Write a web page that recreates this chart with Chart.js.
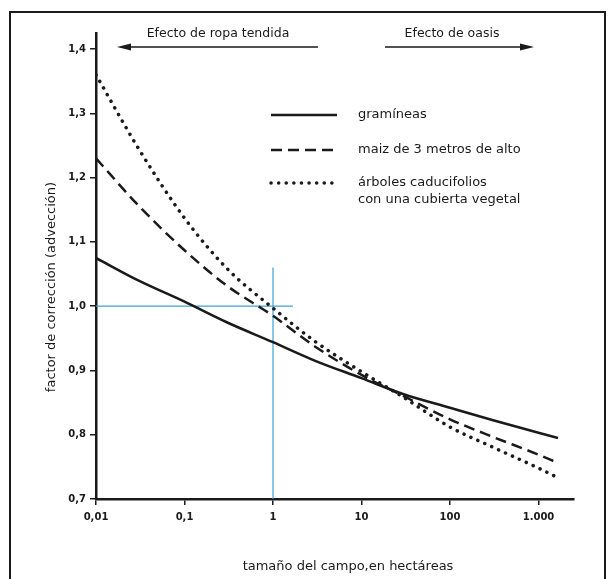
<!DOCTYPE html>
<html>
<head>
<meta charset="utf-8">
<script src="https://cdn.jsdelivr.net/npm/chart.js@4"></script>
<style>
html, body { margin: 0; padding: 0; background: #fff; }
</style>
</head>
<body>
<canvas id="advection" width="611" height="579"></canvas>
<script>
// field size (ha) and correction factor
var fieldSize = [0.01, 0.03, 0.1, 0.3, 1, 3, 10, 30, 100, 300, 1000, 1660];
var grass = [1.075, 1.04, 1.007, 0.975, 0.944, 0.915, 0.888, 0.863, 0.842, 0.823, 0.803, 0.795];
var maize = [1.23, 1.157, 1.087, 1.032, 0.985, 0.937, 0.893, 0.86, 0.824, 0.797, 0.769, 0.756];
var trees = [1.36, 1.246, 1.137, 1.059, 0.997, 0.945, 0.898, 0.858, 0.812, 0.781, 0.748, 0.733];

var seriesNames = ["gramíneas", "maiz de 3 metros de alto", "árboles caducifolios", "con una cubierta vegetal"];

var xTicks = [0.01, 0.1, 1, 10, 100, 1000];
var xTickLabels = ["0,01", "0,1", "1", "10", "100", "1.000"];
var yTicks = [0.7, 0.8, 0.9, 1.0, 1.1, 1.2, 1.3, 1.4];
var yTickLabels = ["0,7", "0,8", "0,9", "1,0", "1,1", "1,2", "1,3", "1,4"];

// blue reference cross at 1 ha / factor 1,0
var crossVX = [1, 1];
var crossVY = [0.7, 1.06];
var crossHX = [0.01, 1.68];
var crossHY = [1, 1];

var ink = "#1a1a1a";
var blue = "#3ea2d6";

function pts(xs, ys) {
	return xs.map(function(x, i) { return {x: x, y: ys[i]}; });
}

var extras = {
	id: 'extras',
	afterDraw: function(chart) {
		var ctx = chart.ctx;
		ctx.save();
		// frame
		ctx.strokeStyle = ink;
		ctx.lineWidth = 2;
		ctx.beginPath();
		ctx.moveTo(10, 579);
		ctx.lineTo(10, 12);
		ctx.lineTo(605, 12);
		ctx.lineTo(605, 579);
		ctx.stroke();

		ctx.fillStyle = ink;
		ctx.font = "12.5px 'DejaVu Sans'";
		ctx.textAlign = "center";
		ctx.textBaseline = "middle";
		ctx.fillText("Efecto de ropa tendida", 218, 34);
		ctx.fillText("Efecto de oasis", 452, 34);

		// arrows
		ctx.lineWidth = 1.5;
		ctx.beginPath();
		ctx.moveTo(128, 47); ctx.lineTo(318, 47);
		ctx.moveTo(385, 47); ctx.lineTo(522, 47);
		ctx.stroke();
		ctx.beginPath();
		ctx.moveTo(117, 47); ctx.lineTo(131, 43.5); ctx.lineTo(131, 50.5); ctx.closePath();
		ctx.moveTo(534, 47); ctx.lineTo(520, 43.5); ctx.lineTo(520, 50.5); ctx.closePath();
		ctx.fill();

		// axis titles
		ctx.font = "13px 'DejaVu Sans'";
		ctx.fillText("tamaño del campo,en hectáreas", 348, 567);
		ctx.save();
		ctx.translate(52, 287);
		ctx.rotate(-Math.PI / 2);
		ctx.fillText("factor de corrección (advección)", 0, 0);
		ctx.restore();

		// legend
		var rows = [115, 150, 183];
		chart.data.datasets.slice(0, 3).forEach(function(ds, i) {
			ctx.strokeStyle = ink;
			ctx.lineWidth = ds.borderWidth;
			ctx.lineCap = ds.borderCapStyle || "butt";
			ctx.setLineDash(ds.borderDash || []);
			ctx.beginPath();
			ctx.moveTo(271, rows[i]);
			ctx.lineTo(337, rows[i]);
			ctx.stroke();
		});
		ctx.setLineDash([]);
		ctx.textAlign = "left";
		ctx.fillText(seriesNames[0], 358, rows[0]);
		ctx.fillText(seriesNames[1], 358, rows[1]);
		ctx.fillText(seriesNames[2], 358, rows[2]);
		ctx.fillText(seriesNames[3], 358, rows[2] + 17);
		ctx.restore();
	}
};

var config = {
	type: 'line',
	data: {
		datasets: [{
			label: seriesNames[0],
			data: pts(fieldSize, grass),
			borderColor: ink,
			borderWidth: 2.5,
			cubicInterpolationMode: 'monotone'
		}, {
			label: seriesNames[1],
			data: pts(fieldSize, maize),
			borderColor: ink,
			borderWidth: 2.5,
			borderDash: [11, 6],
			cubicInterpolationMode: 'monotone'
		}, {
			label: seriesNames[2],
			data: pts(fieldSize, trees),
			borderColor: ink,
			borderWidth: 3.5,
			borderDash: [0.1, 7.5],
			borderCapStyle: 'round',
			cubicInterpolationMode: 'monotone'
		}, {
			data: pts(crossVX, crossVY),
			borderColor: blue,
			borderWidth: 1.2
		}, {
			data: pts(crossHX, crossHY),
			borderColor: blue,
			borderWidth: 1.2
		}]
	},
	options: {
		responsive: false,
		animation: false,
		events: [],
		elements: { point: { radius: 0 } },
		layout: { padding: { top: 33, right: 37, left: 0, bottom: 0 } },
		plugins: {
			legend: { display: false },
			tooltip: { enabled: false }
		},
		scales: {
			x: {
				type: 'logarithmic',
				min: 0.01,
				max: 2518,
				afterBuildTicks: function(scale) {
					scale.ticks = xTicks.map(function(v) { return {value: v}; });
				},
				afterFit: function(scale) { scale.height = 80; },
				border: { color: ink, width: 2.5 },
				grid: { drawOnChartArea: false, tickLength: 6, color: ink, lineWidth: 1.5 },
				ticks: {
					color: ink,
					padding: 6,
					maxRotation: 0,
					autoSkip: false,
					font: { family: "'DejaVu Sans'", size: 10, weight: 'bold' },
					callback: function(v) { return xTickLabels[xTicks.indexOf(v)]; }
				}
			},
			y: {
				min: 0.7,
				max: 1.425,
				afterBuildTicks: function(scale) {
					scale.ticks = yTicks.map(function(v) { return {value: v}; });
				},
				afterFit: function(scale) { scale.width = 96; },
				border: { color: ink, width: 2.5 },
				grid: { drawOnChartArea: false, tickLength: 6, color: ink, lineWidth: 1.5 },
				ticks: {
					color: ink,
					padding: 4,
					autoSkip: false,
					font: { family: "'DejaVu Sans'", size: 10, weight: 'bold' },
					callback: function(v, i) { return yTickLabels[i]; }
				}
			}
		}
	},
	plugins: [extras]
};

window.onload = function() {
	window.advectionChart = new Chart(document.getElementById("advection"), config);
};
</script>
</body>
</html>
